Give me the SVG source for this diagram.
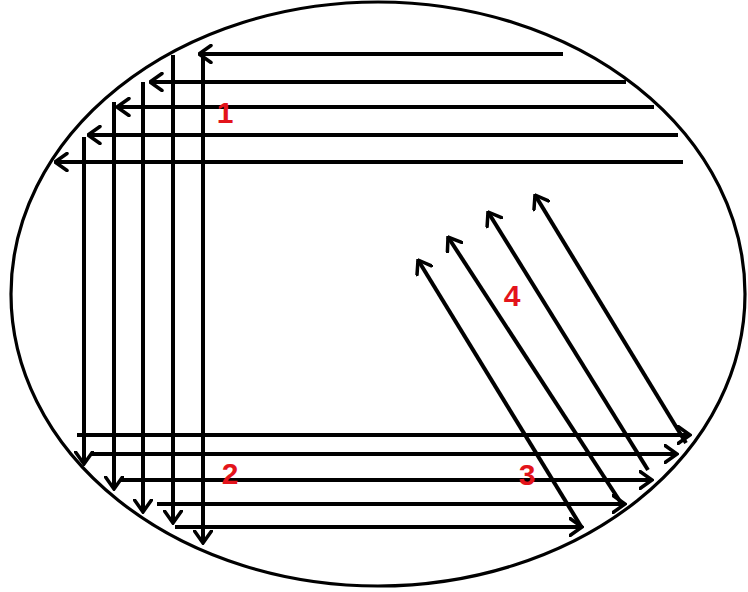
<svg xmlns="http://www.w3.org/2000/svg" width="748" height="592" viewBox="0 0 748 592">
<style>
.bg{fill:#ffffff}
.plate{fill:none;stroke:#000;stroke-width:3.2}
.ln{fill:none;stroke:#000;stroke-width:4;stroke-linecap:butt}
.arr{marker-end:url(#ah)}
.lbl{font-family:"Liberation Sans",Arial,sans-serif;font-weight:bold;font-size:30px;fill:#e3141b;text-anchor:middle}
</style>
<defs>
<marker id="ah" viewBox="0 0 15 20" refX="13.5" refY="10" markerWidth="15" markerHeight="20" markerUnits="userSpaceOnUse" orient="auto">
<path d="M1.5,1.5 L13.5,10 L1.5,18.5" fill="none" stroke="#000" stroke-width="3.5" stroke-linecap="round" stroke-linejoin="miter"/>
</marker>
</defs>
<rect class="bg" x="0" y="0" width="748" height="592"/>
<g id="plate">
<ellipse class="plate" cx="378" cy="294" rx="367" ry="292"/>
</g>
<g id="connectors">
<g id="streak1">
<line class="ln arr" x1="563" y1="54" x2="199" y2="54"/>
<line class="ln arr" x1="626" y1="82" x2="150" y2="82"/>
<line class="ln arr" x1="654" y1="107" x2="117" y2="107"/>
<line class="ln arr" x1="678" y1="135" x2="88" y2="135"/>
<line class="ln arr" x1="683" y1="162" x2="55" y2="162"/>
</g>
<g id="streak2">
<line class="ln arr" x1="84" y1="137" x2="84" y2="464"/>
<line class="ln arr" x1="114" y1="102" x2="114" y2="489"/>
<line class="ln arr" x1="143" y1="82" x2="143" y2="512"/>
<line class="ln arr" x1="173" y1="55" x2="173" y2="523"/>
<line class="ln arr" x1="203" y1="53" x2="203" y2="543"/>
</g>
<g id="streak3">
<line class="ln arr" x1="77" y1="435" x2="690" y2="435"/>
<line class="ln arr" x1="91" y1="454" x2="677" y2="454"/>
<line class="ln arr" x1="120" y1="480" x2="652" y2="480"/>
<line class="ln arr" x1="157" y1="504" x2="625" y2="504"/>
<line class="ln arr" x1="175" y1="527" x2="582" y2="527"/>
</g>
<g id="streak4">
<line class="ln arr" x1="582" y1="528" x2="418" y2="260"/>
<line class="ln arr" x1="623" y1="506" x2="448" y2="237"/>
<line class="ln arr" x1="648" y1="470" x2="488" y2="212"/>
<line class="ln arr" x1="686" y1="443" x2="535" y2="195"/>
</g>
</g>
<g id="label1"><text class="lbl" x="225" y="123">1</text></g>
<g id="label2"><text class="lbl" x="230" y="484">2</text></g>
<g id="label3"><text class="lbl" x="527" y="485">3</text></g>
<g id="label4"><text class="lbl" x="512" y="306">4</text></g>
</svg>
